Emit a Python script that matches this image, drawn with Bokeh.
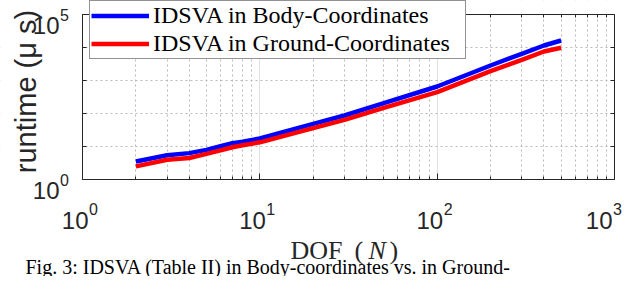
import math
from bokeh.plotting import figure
from bokeh.models import (Range1d, LogAxis, FixedTicker, Label, Legend,
                          LegendItem, CustomJSTickFormatter, BoxAnnotation)
from bokeh.embed import file_html
from bokeh.resources import INLINE

# ---------------- data ----------------
dof = [2, 3, 4, 5, 6, 7, 8, 10, 20, 30, 50, 100, 200, 300, 400, 500]
runtime_body = [3.5, 5.4, 6.3, 7.9, 10.2, 12.6, 13.9, 17.5, 48.7, 87, 205,
                658, 2850, 6440, 11500, 16300]
runtime_ground = [2.5, 3.95, 4.5, 6.0, 7.6, 9.5, 10.9, 13.4, 35.9, 64.4, 149,
                  442, 1914, 4240, 7560, 9800]
series_names = ["IDSVA in Body-Coordinates", "IDSVA in Ground-Coordinates"]

x_limits = [1, 1000]
y_limits = [1, 100000]
x_major_ticks = [1, 10, 100, 1000]
x_minor_ticks = [2, 3, 4, 5, 6, 7, 8, 9,
                 20, 30, 40, 50, 60, 70, 80, 90,
                 200, 300, 400, 500, 600, 700, 800, 900]
y_major_ticks = [1, 100000]
y_minor_ticks = [10, 100, 1000, 10000]
tick_base = "10"
x_tick_exponents = ["0", "1", "2", "3"]
y_tick_exponents = ["0", "5"]
x_label_parts = ["DOF", "(", "N", ")"]
y_label = "runtime (\u03bc s)"
caption = "Fig. 3: IDSVA (Table II) in Body-coordinates vs. in Ground-"

# ---------------- layout / style ----------------
W, H = 624, 276
X0, Y0 = 82, 179          # pixel position of the plot box's lower-left corner
DX, DY = 532 / 3, 165 / 5  # pixels per decade
AX = "#262626"
SANS = "Liberation Sans"
SERIF = "Liberation Serif"

# The frame fills the whole canvas; the axes sit at fixed data locations so that
# texts placed around the box are not clipped.
x_range = Range1d(10 ** (-X0 / DX), 10 ** ((W - X0) / DX))
y_range = Range1d(10 ** (-(H - Y0) / DY), 10 ** (Y0 / DY))

p = figure(width=W, height=H, x_axis_type="log", y_axis_type="log",
           x_range=x_range, y_range=y_range,
           output_backend="svg", toolbar_location=None,
           min_border_left=0, min_border_right=0,
           min_border_top=0, min_border_bottom=0)
p.background_fill_color = "white"
p.border_fill_color = "white"
p.outline_line_color = None


def style_axis(ax, major_in, minor_in, loc, bounds):
    ax.formatter = CustomJSTickFormatter(code="return ''")
    ax.major_label_text_font_size = "0px"
    ax.major_label_standoff = 0
    ax.major_tick_in = major_in
    ax.major_tick_out = 0
    ax.minor_tick_in = minor_in
    ax.minor_tick_out = 0
    ax.axis_line_color = AX
    ax.major_tick_line_color = AX
    ax.minor_tick_line_color = AX
    ax.axis_label_standoff = 0
    ax.fixed_location = loc
    ax.bounds = tuple(bounds)


xt = FixedTicker(ticks=x_major_ticks, minor_ticks=x_minor_ticks)
yt = FixedTicker(ticks=y_major_ticks, minor_ticks=y_minor_ticks)

bx = p.xaxis[0]
ly = p.yaxis[0]
bx.ticker = xt
ly.ticker = yt
style_axis(bx, 6, 3, y_limits[0], x_limits)
style_axis(ly, 6, 4, x_limits[0], y_limits)

tx = LogAxis(ticker=FixedTicker(ticks=x_major_ticks, minor_ticks=x_minor_ticks))
style_axis(tx, 6, 3, y_limits[1], x_limits)
p.add_layout(tx, "above")
ry = LogAxis(ticker=FixedTicker(ticks=y_major_ticks, minor_ticks=y_minor_ticks))
style_axis(ry, 6, 4, x_limits[1], y_limits)
p.add_layout(ry, "right")

p.xgrid.ticker = xt
p.ygrid.ticker = yt
p.xgrid.grid_line_color = "#e0e0e0"
p.xgrid.grid_line_width = 1
p.xgrid.minor_grid_line_color = "#b8b8b8"
p.xgrid.minor_grid_line_dash = "2 3"
p.ygrid.grid_line_color = None
p.ygrid.minor_grid_line_color = "#b8b8b8"
p.ygrid.minor_grid_line_dash = "2 3"

# white masks: keep the grid inside the plot box
for kw in (dict(bottom=y_limits[1]), dict(top=y_limits[0]),
           dict(right=x_limits[0]), dict(left=x_limits[1])):
    p.add_layout(BoxAnnotation(fill_color="white", fill_alpha=1.0,
                               line_alpha=0, level="underlay", **kw))

# ---------------- series ----------------
r_body = p.line(dof, runtime_body, line_color="#0000ff", line_width=4.5)
r_ground = p.line(dof, runtime_ground, line_color="#ff0000", line_width=4.5)

# ---------------- tick labels ----------------
x_shift = [0, 0, 0, -8]  # keep the last label inside the canvas
for k, e in enumerate(x_tick_exponents):
    xv = x_major_ticks[k]
    p.add_layout(Label(x=xv, y=y_limits[0], text=tick_base,
                       x_offset=6 + x_shift[k], y_offset=-41,
                       text_align="right", text_baseline="alphabetic",
                       text_font=SANS, text_font_size="24px", text_color=AX))
    p.add_layout(Label(x=xv, y=y_limits[0], text=e,
                       x_offset=6.5 + x_shift[k], y_offset=-29,
                       text_align="left", text_baseline="alphabetic",
                       text_font=SANS, text_font_size="16px", text_color=AX))

for k, e in enumerate(y_tick_exponents):
    yv = y_major_ticks[k]
    p.add_layout(Label(x=x_limits[0], y=yv, text=tick_base, x_offset=-23,
                       y_offset=-11, text_align="right",
                       text_baseline="alphabetic", text_font=SANS,
                       text_font_size="24px", text_color=AX))
    p.add_layout(Label(x=x_limits[0], y=yv, text=e, x_offset=-22.5,
                       y_offset=0, text_align="left",
                       text_baseline="alphabetic", text_font=SANS,
                       text_font_size="16px", text_color=AX))

# ---------------- axis titles ----------------
x_part_offsets = [208, 272, 286, 307]
x_part_styles = ["normal", "normal", "italic", "normal"]
for t, dx, st in zip(x_label_parts, x_part_offsets, x_part_styles):
    p.add_layout(Label(x=x_limits[0], y=y_limits[0], text=t, x_offset=dx,
                       y_offset=-70.5, text_align="left",
                       text_baseline="alphabetic", text_font=SERIF,
                       text_font_size="26px", text_font_style=st,
                       text_color=AX))

p.add_layout(Label(x=x_limits[0], y=10 ** 2.5, text=y_label, x_offset=-56.5,
                   y_offset=5.5, angle=math.pi / 2, text_align="center",
                   text_baseline="alphabetic", text_font=SANS,
                   text_font_size="29px", text_color=AX))

# ---------------- caption (moved up / shrunk so that it stays visible) -------
p.add_layout(Label(x=x_limits[0], y=y_limits[0], text=caption, x_offset=-57,
                   y_offset=-87, text_align="left", text_baseline="alphabetic",
                   text_font=SERIF, text_font_size="20px",
                   text_color="black"))

# ---------------- legend ----------------
legend = Legend(items=[LegendItem(label=series_names[0], renderers=[r_body]),
                       LegendItem(label=series_names[1], renderers=[r_ground])],
                location=(89, H - 59), orientation="vertical", margin=0,
                padding=1, spacing=1, glyph_width=58, glyph_height=27,
                label_height=27, label_width=311, label_standoff=4,
                label_text_font=SERIF, label_text_font_size="24px",
                label_text_color="black",
                border_line_color=AX, border_line_width=1,
                background_fill_color="white", background_fill_alpha=1)
p.add_layout(legend)

open("out.html", "w").write(file_html(p, INLINE))
